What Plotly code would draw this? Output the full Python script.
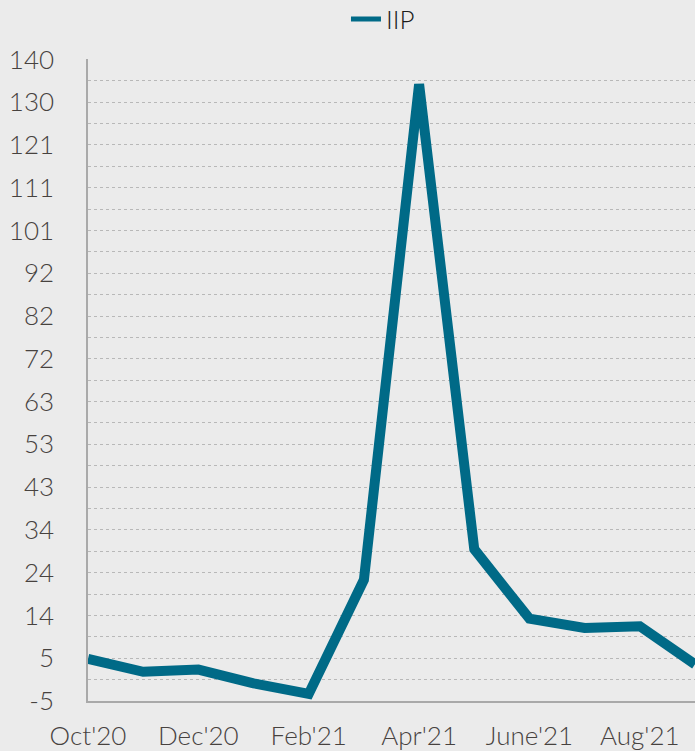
import numpy as np
import plotly.graph_objects as go

# Monthly IIP growth (%, year on year)
months = ["Oct'20", "Nov'20", "Dec'20", "Jan'21", "Feb'21", "Mar'21",
          "Apr'21", "May'21", "June'21", "July'21", "Aug'21", "Sep'21"]
iip = [4.5, 1.6, 2.1, -1.0, -3.4, 22.4, 134.4, 29.3, 13.6, 11.5, 11.9, 3.3]

# Every other month is labelled on the x axis
x_tick_labels = ["Oct'20", "Dec'20", "Feb'21", "Apr'21", "June'21", "Aug'21"]

# Y axis: 15 equal steps from -5 to 140, labels rounded to whole numbers
y_min, y_max = -5, 140
y_tick_labels = ["-5", "5", "14", "24", "34", "43", "53", "63", "72",
                 "82", "92", "101", "111", "121", "130", "140"]

y_ticks = np.linspace(y_min, y_max, len(y_tick_labels))
y_minor = (y_ticks[:-1] + y_ticks[1:]) / 2
x_pos = list(range(len(months)))
x_tick_pos = [months.index(m) for m in x_tick_labels]

BG = "#ebebeb"
LINE = "#006a87"
TEXT = "#47423f"
GRID = "#b8b8b8"
FONT = "Lato, 'Open Sans', sans-serif"
TICK_FONT = dict(family=FONT, size=26, color=TEXT, weight=300)

fig = go.Figure()
fig.add_trace(go.Scatter(
    x=x_pos, y=iip, mode="lines", name="IIP",
    line=dict(color=LINE, width=10),
    showlegend=False, hoverinfo="skip",
))
# Legend entry with a slimmer key line than the plotted series
fig.add_trace(go.Scatter(
    x=[None], y=[None], mode="lines", name="IIP",
    line=dict(color=LINE, width=5),
    showlegend=True, hoverinfo="skip",
))

fig.update_layout(
    width=695, height=751,
    margin=dict(l=88, r=0, t=57, b=48),
    paper_bgcolor=BG, plot_bgcolor=BG,
    font=dict(family=FONT, size=26, color=TEXT),
    showlegend=True,
    legend=dict(
        orientation="h", x=0.425, xanchor="left",
        y=1 - 19 / 751, yanchor="middle", yref="container",
        bgcolor="rgba(0,0,0,0)",
        font=dict(family=FONT, size=26, color="#1c1c1c", weight=300),
    ),
)

fig.update_xaxes(
    range=[0, len(months) - 1],
    tickmode="array", tickvals=x_tick_pos, ticktext=x_tick_labels,
    showgrid=False, zeroline=False,
    showline=True, linecolor="#a9a9a9", linewidth=2,
    ticks="", ticklabelstandoff=11,
    tickfont=TICK_FONT,
)

fig.update_yaxes(
    range=[y_min, y_max],
    tickmode="array", tickvals=list(y_ticks), ticktext=y_tick_labels,
    showgrid=True, gridcolor=GRID, gridwidth=1, griddash="3px,3px",
    minor=dict(tickmode="array", tickvals=list(y_minor), showgrid=True,
               gridcolor=GRID, gridwidth=1, griddash="3px,3px"),
    zeroline=False,
    showline=True, linecolor="#a9a9a9", linewidth=1.5,
    ticks="", ticklabelstandoff=27,
    tickfont=TICK_FONT,
)

fig.write_html("out.html")
